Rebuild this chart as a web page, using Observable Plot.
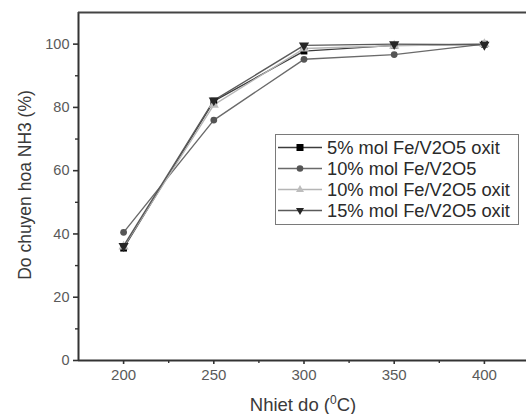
<!DOCTYPE html>
<html>
<head>
<meta charset="utf-8">
<script src="https://cdn.jsdelivr.net/npm/d3@7"></script>
<script src="https://cdn.jsdelivr.net/npm/@observablehq/plot@0.6"></script>
<style>
  html, body { margin: 0; padding: 0; background: #fff; }
  #wrap { position: relative; width: 526px; height: 414px; overflow: hidden; font-family: "Liberation Sans", Arial, sans-serif; }
  #xlabel { position: absolute; left: 0; width: 606px; top: 393px; text-align: center; font-size: 18.5px; color: #3a3a3a; }
  #xlabel sup { font-size: 12px; }
  #ylabel { position: absolute; left: 25px; top: 185px; transform: translate(-50%, -50%) rotate(-90deg); white-space: nowrap; font-size: 17.5px; color: #3a3a3a; }
  #legend { position: absolute; left: 275px; top: 134px; width: 244px; height: 91px; border: 1px solid #7a7a7a; background: #fff; box-sizing: border-box; padding-top: 2px; }
  .row { display: flex; align-items: center; height: 21px; font-size: 18.3px; color: #2a2a2a; white-space: nowrap; }
  .row svg { width: 48px; height: 21px; flex: none; margin-right: 3px; }
</style>
</head>
<body>
<div id="wrap">
  <div id="chart"></div>
  <div id="xlabel">Nhiet do (<sup>0</sup>C)</div>
  <div id="ylabel">Do chuyen hoa NH3 (%)</div>
  <div id="legend"></div>
</div>
<script>
// ---- data ----
const temperatures = [200, 250, 300, 350, 400];
const seriesNames = [
  "5% mol Fe/V2O5 oxit",
  "10% mol Fe/V2O5",
  "10% mol Fe/V2O5 oxit",
  "15% mol Fe/V2O5 oxit"
];
const fe5Oxit  = [35.5, 82.0, 97.8, 99.6, 100.0];
const fe10     = [40.5, 76.0, 95.2, 96.7, 100.0];
const fe10Oxit = [36.0, 80.8, 98.6, 99.5, 100.0];
const fe15Oxit = [36.2, 82.2, 99.6, 100.0, 99.8];
const xMajorTicks = [200, 250, 300, 350, 400];
const xMinorTicks = [225, 275, 325, 375];
const yMajorTicks = [0, 20, 40, 60, 80, 100];
const yMinorTicks = [10, 30, 50, 70, 90];

// ---- styling ----
const triangleDown = {
  draw(context, size) {
    const y = -Math.sqrt(size / (Math.sqrt(3) * 3));
    context.moveTo(0, -y * 2);
    context.lineTo(-Math.sqrt(3) * y, y);
    context.lineTo(Math.sqrt(3) * y, y);
    context.closePath();
  }
};
const styles = [
  {line: "#3c3c3c", fill: "#000000", symbol: "square", r: 3.8, legendSym: "square"},
  {line: "#6a6a6a", fill: "#555555", symbol: "circle", r: 3.4, legendSym: "circle"},
  {line: "#b5b5b5", fill: "#bdbdbd", symbol: "triangle", r: 3.8, legendSym: "triangle"},
  {line: "#5a5a5a", fill: "#262626", symbol: triangleDown, r: 3.8, legendSym: "triangleDown"}
];
const allSeries = [fe5Oxit, fe10, fe10Oxit, fe15Oxit];
const tables = allSeries.map((vals, i) =>
  temperatures.map((t, j) => ({T: t, v: vals[j], series: seriesNames[i]})));

const marks = [];
tables.forEach((tb, i) => {
  marks.push(Plot.line(tb, {x: "T", y: "v", stroke: styles[i].line, strokeWidth: 1.4}));
});
tables.forEach((tb, i) => {
  marks.push(Plot.dot(tb, {x: "T", y: "v", symbol: styles[i].symbol, fill: styles[i].fill, stroke: "none", r: styles[i].r}));
});

const chart = Plot.plot({
  width: 526,
  height: 414,
  marginLeft: 78,
  marginRight: 0,
  marginTop: 12,
  marginBottom: 54,
  style: {fontFamily: "Liberation Sans, Arial, sans-serif", background: "#fff", overflow: "hidden"},
  x: {domain: [175, 425], range: [78, 529], label: null},
  y: {domain: [0, 110], range: [360, 12], label: null},
  marks: [
    Plot.axisX({ticks: xMajorTicks, tickSize: 4, tickPadding: 5, fontSize: 15, color: "#5a5a5a", stroke: "#333", strokeWidth: 1.6, label: null, tickFormat: d => String(d)}),
    Plot.axisX({ticks: xMinorTicks, tickSize: 3, text: null, label: null, stroke: "#333", strokeWidth: 1.4}),
    Plot.axisY({ticks: yMajorTicks, tickSize: 5, tickPadding: 4, fontSize: 14.5, color: "#5a5a5a", stroke: "#333", strokeWidth: 1.6, label: null, tickFormat: d => String(d)}),
    Plot.axisY({ticks: yMinorTicks, tickSize: 3, text: null, label: null, stroke: "#333", strokeWidth: 1.4}),
    ...marks,
    Plot.ruleX([175], {y1: 0, y2: 110, stroke: "#333", strokeWidth: 2}),
    Plot.ruleY([0], {x1: 175, x2: 425, stroke: "#333", strokeWidth: 2}),
    Plot.ruleY([110], {x1: 175, x2: 425, stroke: "#444", strokeWidth: 2})
  ]
});
document.getElementById("chart").appendChild(chart);

// ---- legend ----
function symbolPath(kind) {
  const cx = 24, cy = 10.5;
  if (kind === "square") return `<rect x="${cx-3.5}" y="${cy-3.5}" width="7" height="7"/>`;
  if (kind === "circle") return `<circle cx="${cx}" cy="${cy}" r="3.3"/>`;
  if (kind === "triangle") return `<path d="M${cx},${cy-4.5}L${cx-4},${cy+2.5}L${cx+4},${cy+2.5}Z"/>`;
  return `<path d="M${cx},${cy+4.5}L${cx-4},${cy-2.5}L${cx+4},${cy-2.5}Z"/>`;
}
const legend = document.getElementById("legend");
seriesNames.forEach((name, i) => {
  const st = styles[i];
  const row = document.createElement("div");
  row.className = "row";
  row.innerHTML = `<svg viewBox="0 0 48 21"><line x1="2" x2="46" y1="10.5" y2="10.5" stroke="${st.line}" stroke-width="1.4"/><g fill="${st.fill}">${symbolPath(st.legendSym)}</g></svg><span>${name}</span>`;
  legend.appendChild(row);
});
</script>
</body>
</html>
